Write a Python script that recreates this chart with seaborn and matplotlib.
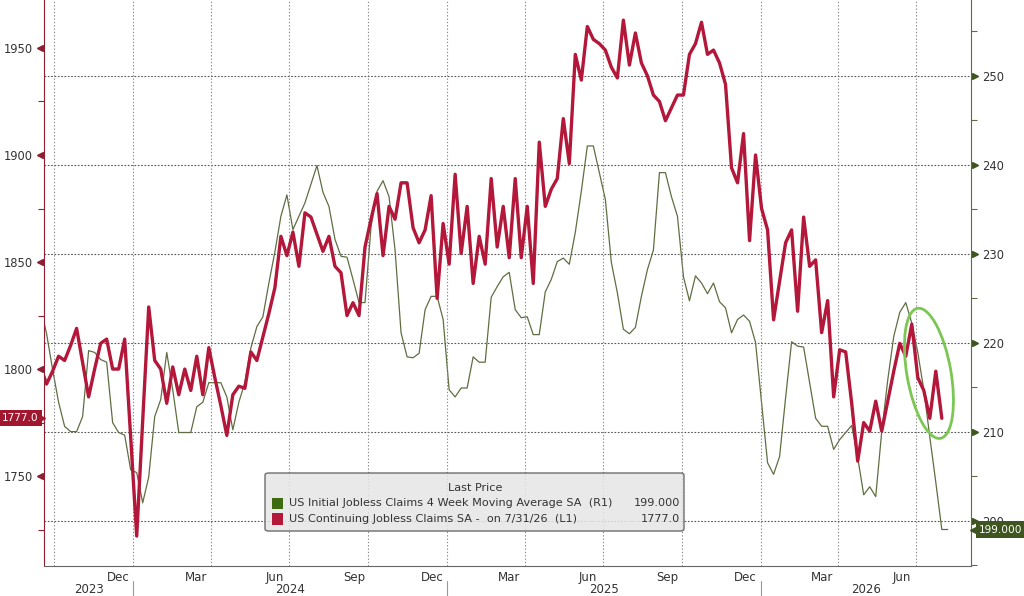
import matplotlib

matplotlib.use("Agg")
import matplotlib.dates as mdates
import matplotlib.pyplot as plt
import matplotlib.transforms as mtransforms
import pandas as pd
import seaborn as sns
from matplotlib.patches import Ellipse, FancyBboxPatch, Rectangle
from matplotlib.ticker import NullFormatter

# weekly readings, first week 2023-09-15
continuing_claims = [  # L1, thousands
    1801, 1793, 1799, 1806, 1804, 1811, 1819, 1803, 1787, 1800,
    1812, 1814, 1800, 1800, 1814, 1768, 1722, 1776, 1829, 1804,
    1800, 1784, 1801, 1788, 1800, 1790, 1806, 1788, 1810, 1796,
    1783, 1769, 1788, 1792, 1791, 1808, 1804, 1815, 1826, 1838,
    1862, 1853, 1864, 1848, 1873, 1871, 1863, 1855, 1862, 1848,
    1845, 1825, 1831, 1825, 1857, 1870, 1882, 1853, 1876, 1870,
    1887, 1887, 1866, 1859, 1865, 1881, 1833, 1868, 1849, 1891,
    1854, 1876, 1840, 1862, 1849, 1889, 1857, 1876, 1852, 1889,
    1852, 1876, 1840, 1906, 1876, 1884, 1889, 1917, 1896, 1947,
    1935, 1960, 1954, 1952, 1949, 1941, 1936, 1963, 1942, 1957,
    1943, 1937, 1928, 1925, 1916, 1922, 1928, 1928, 1947, 1952,
    1962, 1947, 1949, 1943, 1933, 1894, 1887, 1910, 1860, 1900,
    1875, 1865, 1823, 1841, 1859, 1865, 1827, 1871, 1848, 1851,
    1817, 1832, 1787, 1809, 1808, 1784, 1757, 1775, 1771, 1785,
    1771, 1785, 1799, 1812, 1806, 1821, 1796, 1790, 1777, 1799,
    1777,
]
initial_claims_4wk = [  # R1, thousands
    224.0, 221.0, 217.0, 213.3, 210.6, 210.0, 210.0, 211.7, 219.1, 218.9,
    218.1, 217.8, 211.0, 209.9, 209.6, 205.7, 205.4, 202.0, 204.9, 211.7,
    213.6, 218.9, 214.7, 209.9, 209.9, 209.9, 212.8, 213.3, 215.5, 215.5,
    215.5, 213.9, 210.2, 213.3, 215.5, 219.4, 221.8, 222.9, 226.7, 230.2,
    234.2, 236.6, 232.7, 234.2, 235.7, 237.8, 239.9, 236.9, 235.3, 231.6,
    229.7, 229.6, 227.1, 224.5, 224.5, 233.0, 237.0, 238.2, 236.4, 230.4,
    221.1, 218.4, 218.3, 218.8, 223.7, 225.2, 225.2, 222.6, 214.7, 213.9,
    214.9, 214.9, 218.4, 217.8, 217.8, 225.1, 226.3, 227.4, 227.9, 223.7,
    222.8, 222.9, 220.9, 220.9, 225.7, 227.1, 229.1, 229.5, 228.8, 232.4,
    237.0, 242.1, 242.1, 239.1, 236.1, 229.0, 225.6, 221.5, 221.0, 221.7,
    225.2, 228.2, 230.4, 239.1, 239.1, 236.4, 234.2, 227.4, 224.7, 227.5,
    226.7, 225.5, 226.7, 224.6, 223.9, 221.1, 222.6, 223.1, 222.4, 220.0,
    213.3, 206.5, 205.2, 207.2, 213.8, 220.1, 219.6, 219.5, 215.5, 211.5,
    210.6, 210.6, 208.0, 209.1, 209.9, 210.7, 207.1, 202.9, 203.8, 202.7,
    210.0, 215.8, 220.7, 223.4, 224.5, 222.2, 218.9, 214.7, 209.4, 204.3,
    199.0, 199.0,
]
first_week = "2023-09-15"
x_range = ("2023-09-19", "2026-09-03")
left_ticks = [1750, 1800, 1850, 1900, 1950]
right_ticks = [200, 210, 220, 230, 240, 250]
label_months = {3: "Mar", 6: "Jun", 9: "Sep", 12: "Dec"}

legend_title = "Last Price"
legend_rows = [
    ("US Initial Jobless Claims 4 Week Moving Average SA  (R1)", "199.000"),
    ("US Continuing Jobless Claims SA -  on 7/31/26  (L1)", "1777.0"),
]

RED = "#B3173A"
RED_DARK = "#8E1F33"
RED_TAG = "#A0172F"
OLIVE = "#5F6E42"
OLIVE_DARK = "#3E5520"
TEXT = "#333333"

sns.set_style("white")
plt.rcParams["font.family"] = ["DejaVu Sans"]

cont_df = pd.DataFrame({
    "date": pd.date_range(first_week, periods=len(continuing_claims), freq="7D"),
    "value": continuing_claims,
})
init_df = pd.DataFrame({
    "date": pd.date_range(first_week, periods=len(initial_claims_4wk), freq="7D"),
    "value": initial_claims_4wk,
})

fig = plt.figure(figsize=(10.24, 5.96), dpi=100)
ax = fig.add_axes([44 / 1024, 30 / 596, 927 / 1024, 566 / 596])
ax2 = ax.twinx()

sns.lineplot(data=init_df, x="date", y="value", ax=ax2, color=OLIVE, linewidth=0.9)
sns.lineplot(data=cont_df, x="date", y="value", ax=ax, color=RED, linewidth=2.4)
ax.set_zorder(ax2.get_zorder() + 1)
ax.patch.set_visible(False)

ax.set_xlim(pd.Timestamp(x_range[0]), pd.Timestamp(x_range[1]))
ax.set_ylim(1708, 1972.4)
ax2.set_ylim(194.9, 258.5)
for a in (ax, ax2):
    a.set_xlabel("")
    a.set_ylabel("")

# x axis: quarter grid, monthly ticks, labels drawn as text
ax.xaxis.set_major_locator(mdates.MonthLocator(bymonth=[1, 4, 7, 10]))
ax.xaxis.set_minor_locator(mdates.MonthLocator())
ax.xaxis.set_major_formatter(NullFormatter())
ax.tick_params(axis="x", which="both", direction="out", length=4,
               width=0.8, color="#666666", labelbottom=False)
ax.xaxis.grid(True, which="major", linestyle=(0, (1.2, 1.8)), color="#8a8a8a", lw=0.8)

# left axis
ax.set_yticks(left_ticks)
ax.set_yticks([t + 25 for t in [1700] + left_ticks[:-1]], minor=True)
ax.tick_params(axis="y", which="major", length=0, labelsize=8.3,
               labelcolor=TEXT, pad=8)
ax.tick_params(axis="y", which="minor", length=4, width=0.8, color=RED_DARK)
ax.plot([-0.004] * len(left_ticks), left_ticks, marker="<", ls="none",
        ms=5, color=RED_DARK, transform=ax.get_yaxis_transform(), clip_on=False)

# right axis
ax2.set_yticks(right_ticks)
ax2.set_yticks([t + 5 for t in [190] + right_ticks], minor=True)
ax2.tick_params(axis="y", which="major", length=0, labelsize=8.3,
                labelcolor=TEXT, pad=8)
ax2.tick_params(axis="y", which="minor", length=4, width=0.8, color=OLIVE)
ax2.plot([1.004] * len(right_ticks), right_ticks, marker=">", ls="none",
         ms=5, color=OLIVE_DARK, transform=ax2.get_yaxis_transform(), clip_on=False)
ax2.yaxis.grid(True, linestyle=(0, (1.5, 1.5)), color="#555555", lw=0.8)

for name, spine in ax.spines.items():
    spine.set_visible(name in ("left", "bottom"))
for name, spine in ax2.spines.items():
    spine.set_visible(name == "right")
ax.spines["left"].set_color(RED_DARK)
ax.spines["bottom"].set_color("#666666")
ax2.spines["right"].set_color(OLIVE)

# month and year labels under the axis
x0, x1 = ax.get_xlim()
xtrans = ax.get_xaxis_transform()
for month_start in pd.date_range("2023-09-01", x_range[1], freq="MS"):
    if month_start.month in label_months:
        mid = mdates.date2num(month_start + pd.Timedelta(days=13))
        if x0 < mid < x1:
            ax.text(mid, -0.02, label_months[month_start.month], transform=xtrans,
                    ha="center", va="center", fontsize=8.5, color=TEXT)
for year in range(2023, 2027):
    start = max(mdates.date2num(pd.Timestamp(f"{year}-01-01")), x0)
    end = min(mdates.date2num(pd.Timestamp(f"{year + 1}-01-01")), x1)
    ax.text((start + end) / 2, -0.041, str(year), transform=xtrans,
            ha="center", va="center", fontsize=8.5, color=TEXT)
    if start > x0:
        ax.plot([start, start], [-0.027, -0.06], transform=xtrans,
                color="#999999", lw=0.8, clip_on=False)

# last value tags: pointer behind a boxed label
ytrans_l = ax.get_yaxis_transform()
ax.plot([-0.0045], [continuing_claims[-1]], marker=">", ms=7, color=RED_TAG,
        transform=ytrans_l, clip_on=False, zorder=7)
ax.text(-0.006, continuing_claims[-1], f"{continuing_claims[-1]:.1f}",
        transform=ytrans_l, ha="right", va="center", fontsize=7.6, color="white",
        bbox=dict(boxstyle="square,pad=0.3", fc=RED_TAG, ec="none"), zorder=8)
ytrans_r = ax2.get_yaxis_transform()
ax2.plot([1.0045], [initial_claims_4wk[-1]], marker="<", ms=7, color=OLIVE_DARK,
         transform=ytrans_r, clip_on=False, zorder=7)
ax2.text(1.0085, initial_claims_4wk[-1], f"{initial_claims_4wk[-1]:.3f}",
         transform=ytrans_r, ha="left", va="center", fontsize=7.6, color="white",
         bbox=dict(boxstyle="square,pad=0.3", fc=OLIVE_DARK, ec="none"), zorder=8)

# legend box
ax.add_patch(FancyBboxPatch((0.2384, 0.0618), 0.452, 0.1025, transform=ax.transAxes,
                            boxstyle="round,pad=0,rounding_size=0.004",
                            fc="#E6E6E6", ec="#555555", lw=1, alpha=0.85,
                            zorder=5))
ax.text(0.465, 0.137, legend_title, transform=ax.transAxes, ha="center",
        va="center", fontsize=8.1, color=TEXT, zorder=6)
for (label, value), colour, y in zip(legend_rows, ["#3E6A12", RED], [0.111, 0.083]):
    ax.add_patch(Rectangle((0.246, y - 0.011), 0.0118, 0.021, transform=ax.transAxes,
                           fc=colour, ec="none", zorder=6))
    ax.text(0.2645, y, label, transform=ax.transAxes, ha="left", va="center",
            fontsize=8.1, color=TEXT, zorder=6)
    ax.text(0.6861, y, value, transform=ax.transAxes, ha="right", va="center",
            fontsize=8.1, color=TEXT, zorder=6)

# green ring around the latest weeks
ring_at = mtransforms.ScaledTranslation(
    mdates.date2num(pd.Timestamp("2026-07-16")), 1798, ax.transData)
ax.add_patch(Ellipse((0, 0), 0.44, 1.32, angle=10, fill=False, ec="#7CC653",
                     lw=2, transform=fig.dpi_scale_trans + ring_at, zorder=7))

fig.savefig("out.png", dpi=100)
